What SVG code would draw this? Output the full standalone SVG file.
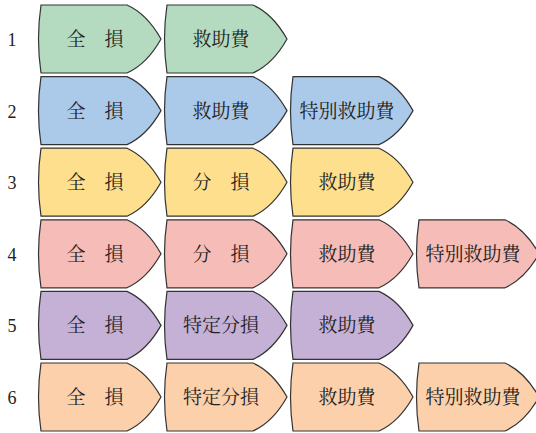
<svg xmlns="http://www.w3.org/2000/svg" width="536" height="433" viewBox="0 0 536 433">
<defs>
<path id="shape" d="M0,0 L86,0 Q106,9 120,34 Q106,59 86,68 L0,68 Q-5,34 0,0 Z"/>
</defs>
<style>
.s{stroke:#333;stroke-width:1.2}
.g{fill:#b4dbbf}.b{fill:#abc9e9}.y{fill:#fddf8e}.p{fill:#f6bcb7}.v{fill:#c5b1d6}.o{fill:#fbd0ab}
text{font-family:"Noto Serif CJK JP","Noto Sans CJK JP","Liberation Serif",serif;font-size:19px;fill:#222;text-anchor:middle}
.n{font-family:"Liberation Serif",serif;font-size:18px}
</style>
<rect width="536" height="433" fill="#fff"/>
<g id="labels">
<text class="n" x="12" y="46">1</text>
<text class="n" x="12" y="118">2</text>
<text class="n" x="12" y="189">3</text>
<text class="n" x="12" y="261">4</text>
<text class="n" x="12" y="332">5</text>
<text class="n" x="12" y="404">6</text>
</g>
<g id="r1">
<g id="r1c1" transform="translate(41,5)"><use href="#shape" class="s g"/><text x="54" y="41">全　損</text></g>
<g id="r1c2" transform="translate(167,5)"><use href="#shape" class="s g"/><text x="54" y="41">救助費</text></g>
</g>
<g id="r2">
<g id="r2c1" transform="translate(41,76.6)"><use href="#shape" class="s b"/><text x="54" y="41">全　損</text></g>
<g id="r2c2" transform="translate(167,76.6)"><use href="#shape" class="s b"/><text x="54" y="41">救助費</text></g>
<g id="r2c3" transform="translate(293,76.6)"><use href="#shape" class="s b"/><text x="54" y="41">特別救助費</text></g>
</g>
<g id="r3">
<g id="r3c1" transform="translate(41,148.2)"><use href="#shape" class="s y"/><text x="54" y="41">全　損</text></g>
<g id="r3c2" transform="translate(167,148.2)"><use href="#shape" class="s y"/><text x="54" y="41">分　損</text></g>
<g id="r3c3" transform="translate(293,148.2)"><use href="#shape" class="s y"/><text x="54" y="41">救助費</text></g>
</g>
<g id="r4">
<g id="r4c1" transform="translate(41,219.8)"><use href="#shape" class="s p"/><text x="54" y="41">全　損</text></g>
<g id="r4c2" transform="translate(167,219.8)"><use href="#shape" class="s p"/><text x="54" y="41">分　損</text></g>
<g id="r4c3" transform="translate(293,219.8)"><use href="#shape" class="s p"/><text x="54" y="41">救助費</text></g>
<g id="r4c4" transform="translate(419,219.8)"><use href="#shape" class="s p"/><text x="54" y="41">特別救助費</text></g>
</g>
<g id="r5">
<g id="r5c1" transform="translate(41,291.4)"><use href="#shape" class="s v"/><text x="54" y="41">全　損</text></g>
<g id="r5c2" transform="translate(167,291.4)"><use href="#shape" class="s v"/><text x="54" y="41">特定分損</text></g>
<g id="r5c3" transform="translate(293,291.4)"><use href="#shape" class="s v"/><text x="54" y="41">救助費</text></g>
</g>
<g id="r6">
<g id="r6c1" transform="translate(41,363)"><use href="#shape" class="s o"/><text x="54" y="41">全　損</text></g>
<g id="r6c2" transform="translate(167,363)"><use href="#shape" class="s o"/><text x="54" y="41">特定分損</text></g>
<g id="r6c3" transform="translate(293,363)"><use href="#shape" class="s o"/><text x="54" y="41">救助費</text></g>
<g id="r6c4" transform="translate(419,363)"><use href="#shape" class="s o"/><text x="54" y="41">特別救助費</text></g>
</g>
<g id="connectors"/>
</svg>
